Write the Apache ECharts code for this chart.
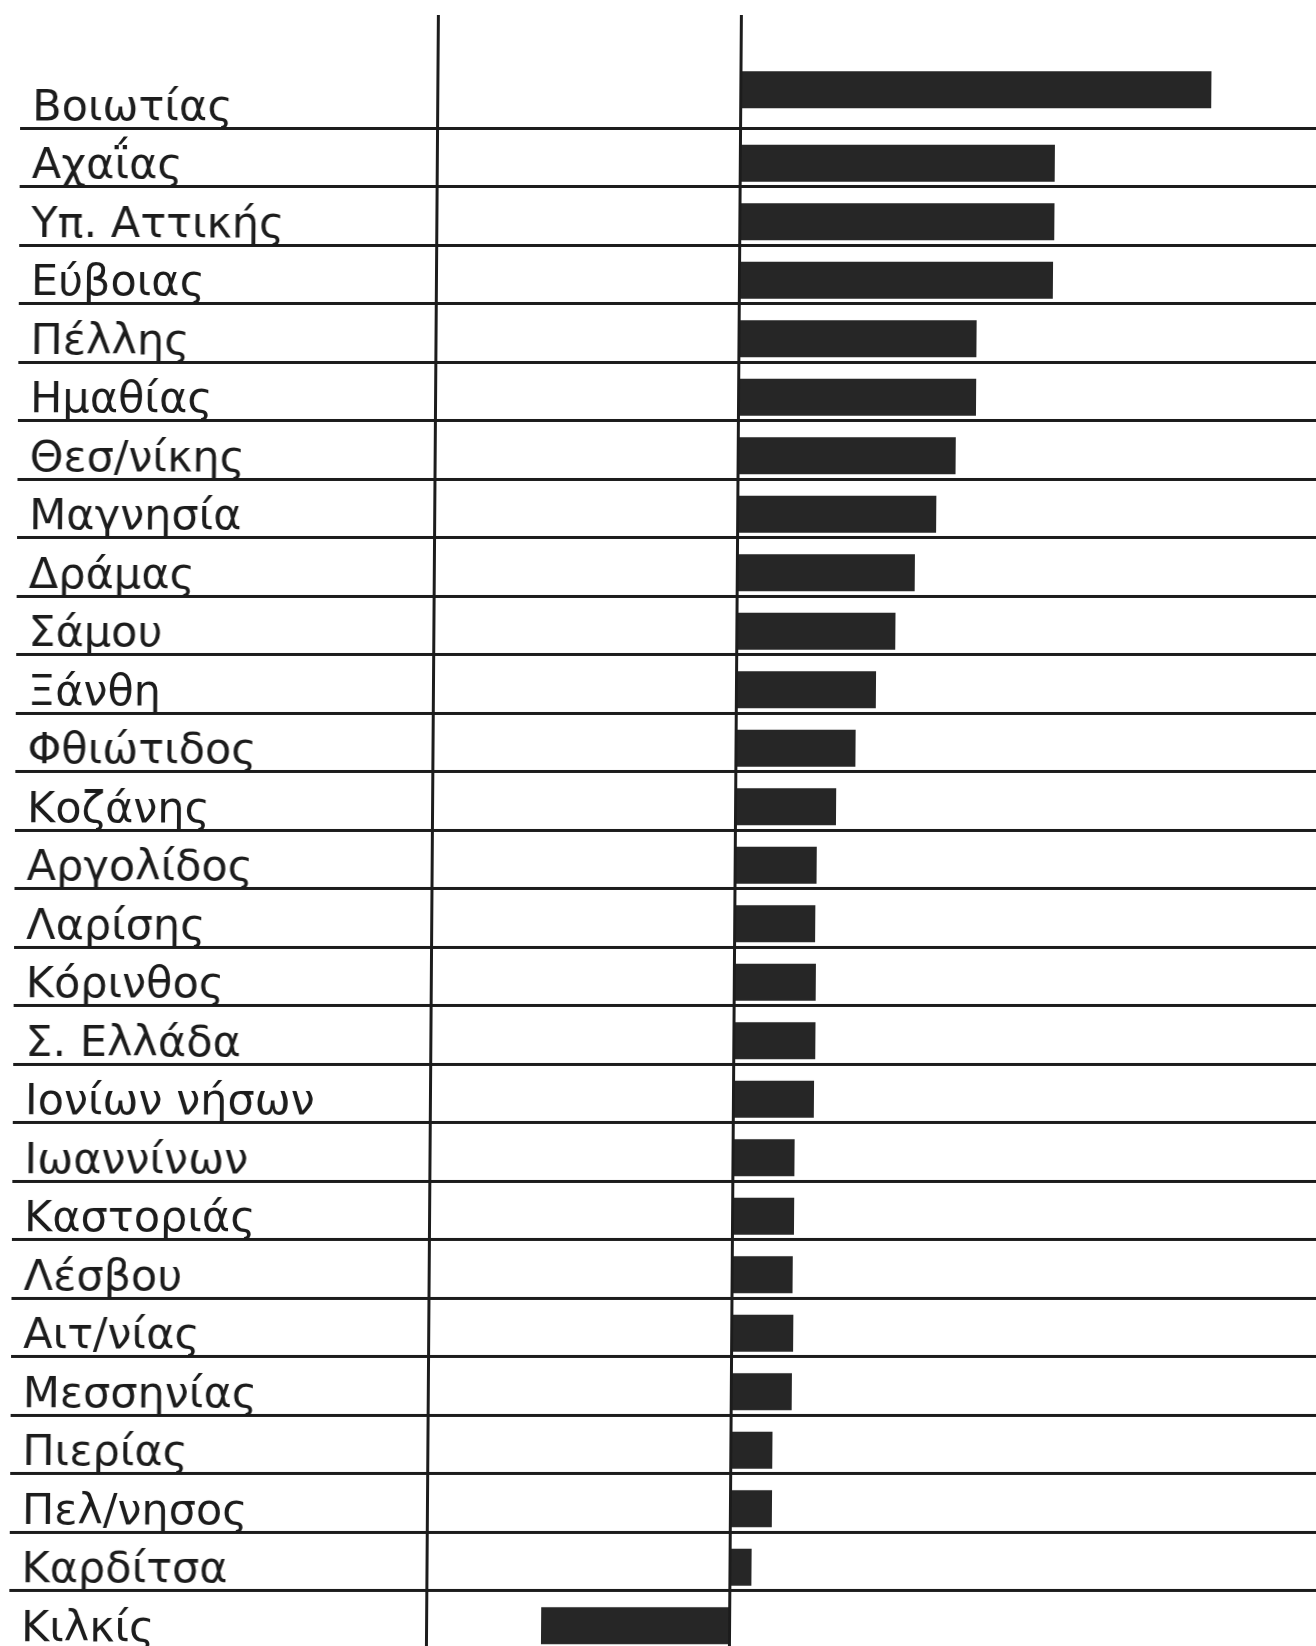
<!DOCTYPE html>
<html><head><meta charset="utf-8">
<script src="https://cdn.jsdelivr.net/npm/echarts@6/dist/echarts.min.js"></script>
<style>
html,body{margin:0;padding:0;background:#fff;overflow:hidden;}
#chart{position:absolute;left:0;top:0;width:1345px;height:1660px;transform-origin:0 0;transform:skewX(-0.42deg);}
</style></head><body><div id="chart"></div>
<script>
const categories = ['Βοιωτίας','Αχαΐας','Υπ. Αττικής','Εύβοιας','Πέλλης','Ημαθίας','Θεσ/νίκης','Μαγνησία','Δράμας','Σάμου','Ξάνθη','Φθιώτιδος','Κοζάνης','Αργολίδος','Λαρίσης','Κόρινθος','Σ. Ελλάδα','Ιονίων νήσων','Ιωαννίνων','Καστοριάς','Λέσβου','Αιτ/νίας','Μεσσηνίας','Πιερίας','Πελ/νησος','Καρδίτσα','Κιλκίς'];
const values = [23.55,15.75,15.75,15.7,11.9,11.9,10.9,9.95,8.9,7.95,7.0,6.0,5.05,4.1,4.05,4.1,4.1,4.05,3.1,3.1,3.05,3.1,3.05,2.1,2.1,1.1,-9.4];
const referenceLines = [-15.15, 0];
const xRange = [-36, 30];

const ink = '#1c1c1c';
const chart = echarts.init(document.getElementById('chart'), null, {renderer:'canvas'});
chart.setOption({
  animation: false,
  backgroundColor: '#ffffff',
  grid: [
    {left: 21, top: 69.5, width: 1320, height: 1579.5},
    {left: 21, top: 15, width: 1320, height: 1645}
  ],
  xAxis: [
    {gridIndex: 0, type: 'value', min: xRange[0], max: xRange[1], show: false},
    {gridIndex: 1, type: 'value', min: xRange[0], max: xRange[1], show: false}
  ],
  yAxis: [
    {
      gridIndex: 0, type: 'category', inverse: true, data: categories,
      axisLine: {show: false}, axisTick: {show: false},
      splitLine: {show: true, interval: function (i) { return i > 0; }, lineStyle: {color: ink, width: 3}},
      axisLabel: {inside: true, margin: 12, interval: 0, fontFamily: 'DejaVu Sans', fontSize: 43, color: ink, verticalAlign: 'top', lineHeight: 20}
    },
    {gridIndex: 1, type: 'value', min: 0, max: 1, show: false}
  ],
  series: [
    {
      type: 'pictorialBar', xAxisIndex: 0, yAxisIndex: 0,
      data: values.map(function (v, i) { return i === 0 ? {value: v, symbolOffset: [0, -9]} : v; }),
      symbol: 'rect', symbolSize: ['100%', 37], symbolOffset: [0, 6],
      itemStyle: {color: '#262626'}, silent: true, z: 3
    },
    {
      type: 'line', xAxisIndex: 1, yAxisIndex: 1, data: [],
      markLine: {
        symbol: 'none', silent: true, label: {show: false},
        lineStyle: {color: ink, width: 3, type: 'solid'},
        data: referenceLines.map(function (v) { return {xAxis: v}; })
      }
    }
  ]
});
</script></body></html>
